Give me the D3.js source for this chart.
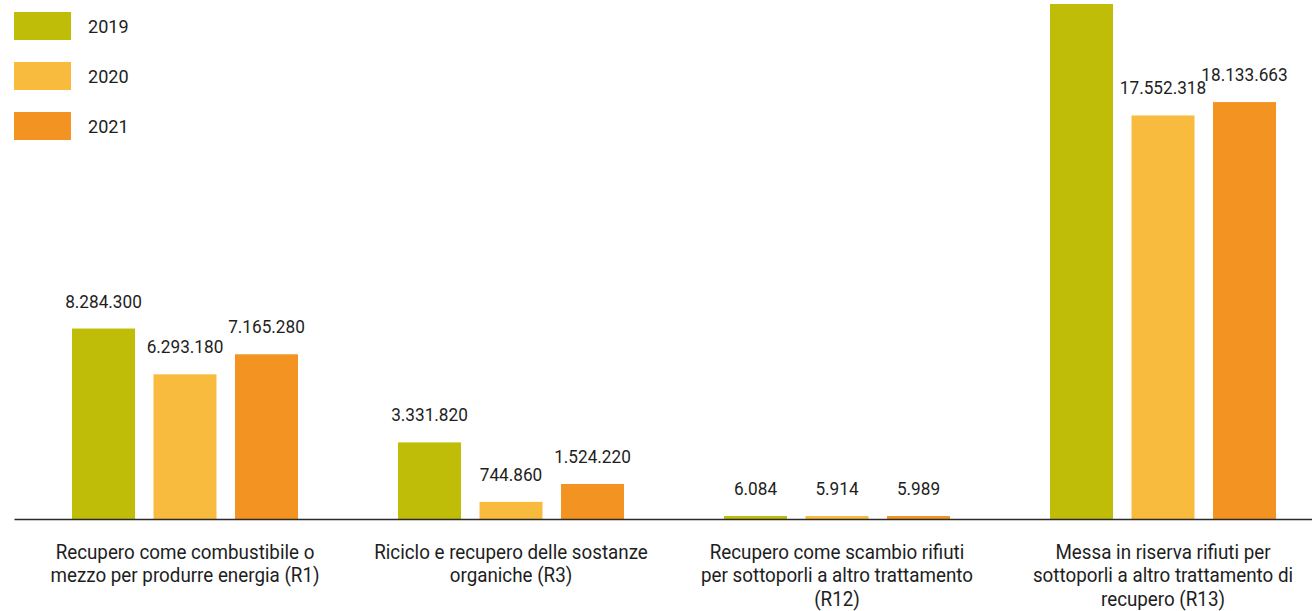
<!DOCTYPE html>
<html>
<head>
<meta charset="utf-8">
<script src="https://cdn.jsdelivr.net/npm/d3@7"></script>
<style>
  html, body { margin: 0; padding: 0; background: #fff; }
  svg { display: block; font-family: Roboto, "Noto Sans", sans-serif; }
</style>
</head>
<body>
<div id="chart"></div>
<script>
const width = 1312;
const height = 611;

const categories = [
  "Recupero come combustibile o|mezzo per produrre energia (R1)",
  "Riciclo e recupero delle sostanze|organiche (R3)",
  "Recupero come scambio rifiuti|per sottoporli a altro trattamento|(R12)",
  "Messa in riserva rifiuti per|sottoporli a altro trattamento di|recupero (R13)"
];
const years = ["2019", "2020", "2021"];
const colors = ["#bfbd07", "#f9bb3e", "#f39321"];

// 2019 R13 value is cut off in the source
const values2019 = [8284300, 3331820, 6084, 22400000];
const values2020 = [6293180, 744860, 5914, 17552318];
const values2021 = [7165280, 1524220, 5989, 18133663];
const seriesValues = [values2019, values2020, values2021];

const baseline = 519;
const groupWidth = 226;
const fmt = d3.formatLocale({ decimal: ",", thousands: ".", grouping: [3], currency: ["€", ""] }).format(",d");

const x0 = d3.scaleBand(d3.range(categories.length), [22, 1326]);
const x1 = d3.scaleBand(years, [0, groupWidth]).paddingInner(0.227).paddingOuter(0);
const y = d3.scaleLinear([0, 22400000], [baseline, 4]);

const svg = d3.select("#chart").append("svg")
  .attr("width", width)
  .attr("height", height);

const rows = categories.flatMap((c, i) => years.map((yr, j) => ({
  cat: i, year: yr, color: colors[j], value: seriesValues[j][i]
})));

const groupX = i => x0(i) + x0.bandwidth() / 2 - groupWidth / 2;
const barTop = d => Math.min(y(d.value), baseline - 3);

// bars
svg.selectAll(".bar")
  .data(rows)
  .join("rect")
  .attr("class", "bar")
  .attr("x", d => groupX(d.cat) + x1(d.year))
  .attr("width", x1.bandwidth())
  .attr("y", barTop)
  .attr("height", d => baseline - barTop(d))
  .attr("fill", d => d.color);

// value labels (the one above the top edge is cropped away in the source)
svg.selectAll(".value")
  .data(rows.filter(d => barTop(d) - 21 > 15))
  .join("text")
  .attr("class", "value")
  .attr("text-anchor", "middle")
  .attr("font-size", 18.5)
  .attr("fill", "#1e1e1e")
  .attr("transform", d => `translate(${groupX(d.cat) + x1(d.year) + x1.bandwidth() / 2},${barTop(d) - 21}) scale(0.93,1)`)
  .text(d => fmt(d.value));

// axis line
const axis = d3.axisBottom(d3.scaleLinear([0, 1], [14, 1312])).ticks(0).tickSize(0).tickFormat("");
svg.append("g")
  .attr("transform", `translate(0,${baseline})`)
  .call(axis)
  .call(g => g.select(".domain").attr("stroke", "#2b2b2b").attr("stroke-width", 1.6));

// category labels
const catLabels = svg.selectAll(".cat")
  .data(categories)
  .join("text")
  .attr("class", "cat")
  .attr("text-anchor", "middle")
  .attr("font-size", 20)
  .attr("fill", "#1e1e1e")
  .attr("transform", (d, i) => `translate(${x0(i) + x0.bandwidth() / 2},559) scale(0.94,1)`);
catLabels.selectAll("tspan")
  .data(d => d.split("|"))
  .join("tspan")
  .attr("x", 0)
  .attr("y", (d, i) => i * 23.5)
  .text(d => d);

// legend
const legend = svg.selectAll(".legend")
  .data(years)
  .join("g")
  .attr("class", "legend")
  .attr("transform", (d, i) => `translate(14,${12 + i * 50})`);
legend.append("rect")
  .attr("width", 57)
  .attr("height", 28)
  .attr("fill", (d, i) => colors[i]);
legend.append("text")
  .attr("transform", "translate(74,21) scale(0.95,1)")
  .attr("font-size", 19)
  .attr("fill", "#1e1e1e")
  .text(d => d);
</script>
</body>
</html>
